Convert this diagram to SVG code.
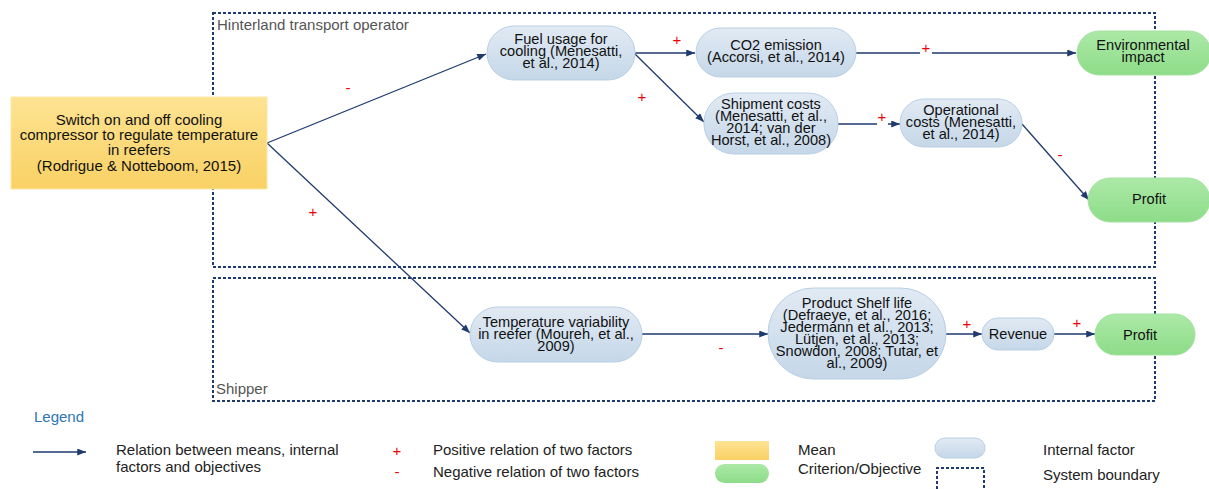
<svg xmlns="http://www.w3.org/2000/svg" width="1209" height="489" viewBox="0 0 1209 489">
<defs>
<linearGradient id="gMean" x1="0" y1="0" x2="0" y2="1"><stop offset="0" stop-color="#fde393"/><stop offset="1" stop-color="#f9d164"/></linearGradient>
<linearGradient id="gInt" x1="0" y1="0" x2="0" y2="1"><stop offset="0" stop-color="#e1eaf4"/><stop offset="1" stop-color="#c5d7e8"/></linearGradient>
<linearGradient id="gObj" x1="0" y1="0" x2="0" y2="1"><stop offset="0" stop-color="#ace9a7"/><stop offset="1" stop-color="#8ddc88"/></linearGradient>
<marker id="arr" viewBox="0 0 10 8" refX="10" refY="4" markerWidth="10" markerHeight="7" markerUnits="userSpaceOnUse" orient="auto"><path d="M0,0 L10,4 L0,8 Z" fill="#1f3a6e"/></marker>
<style>
text{font-family:"Liberation Sans",Arial,sans-serif;font-size:15px;fill:#111}
.n text{text-anchor:middle;font-size:14.6px}
.mean{fill:url(#gMean);stroke:#fbe7a6;stroke-width:1}
.int{fill:url(#gInt);stroke:#b9cfe4;stroke-width:1}
.obj{fill:url(#gObj);stroke:#a4e2a0;stroke-width:1}
.bnd{fill:none;stroke:#1f3a6e;stroke-width:2;stroke-dasharray:3 2}
.c line{stroke:#1f3a6e;stroke-width:1.3;marker-end:url(#arr)}
.s{fill:#e00;font-size:15px;text-anchor:middle}
.bl{fill:#555;font-size:15px}
.lg{fill:#222;font-size:15px}
</style>
</defs>
<rect width="1209" height="489" fill="#fff"/>
<g id="boundaries">
<rect class="bnd" x="213" y="13" width="942" height="254"/>
<rect class="bnd" x="213" y="278" width="942" height="123"/>
<text class="bl" x="217" y="30">Hinterland transport operator</text>
<text class="bl" x="216" y="394">Shipper</text>
</g>
<g id="connectors" class="c">
<line x1="267" y1="143" x2="486" y2="54"/>
<line x1="267" y1="143" x2="470" y2="333"/>
<line x1="635" y1="53" x2="695" y2="53"/>
<line x1="635" y1="54" x2="704" y2="122"/>
<line x1="856" y1="53" x2="1076" y2="53"/>
<line x1="838" y1="124" x2="900" y2="124"/>
<line x1="1022" y1="124" x2="1089" y2="200"/>
<line x1="642" y1="334" x2="768" y2="334"/>
<line x1="946" y1="334" x2="982" y2="334"/>
<line x1="1054" y1="334" x2="1095" y2="334"/>
</g>
<g id="signs">
<text class="s" x="348" y="93">-</text>
<text class="s" x="313" y="217">+</text>
<text class="s" x="677" y="45">+</text>
<text class="s" x="642" y="102">+</text>
<rect x="920" y="44" width="12" height="12" fill="#fff"/>
<text class="s" x="926" y="53">+</text>
<rect x="877" y="116" width="11" height="12" fill="#fff"/>
<text class="s" x="882" y="122">+</text>
<text class="s" x="1060" y="160">-</text>
<text class="s" x="721" y="353">-</text>
<text class="s" x="967" y="329">+</text>
<text class="s" x="1077" y="328">+</text>
</g>
<g id="mean" class="n">
<rect class="mean" x="11" y="97" width="256" height="92"/>
<text x="139" y="125" style="font-size:15px">Switch on and off cooling</text>
<text x="139" y="140" style="font-size:15px">compressor to regulate temperature</text>
<text x="139" y="155" style="font-size:15px">in reefers</text>
<text x="139" y="171" style="font-size:15px">(Rodrigue &amp; Notteboom, 2015)</text>
</g>
<g id="fuel" class="n">
<rect class="int" x="487" y="26" width="148" height="54" rx="27"/>
<text x="561" y="44">Fuel usage for</text>
<text x="561" y="56">cooling (Menesatti,</text>
<text x="561" y="68">et al., 2014)</text>
</g>
<g id="co2" class="n">
<rect class="int" x="696" y="28" width="160" height="49" rx="24.5"/>
<text x="776" y="50">CO2 emission</text>
<text x="776" y="62">(Accorsi, et al., 2014)</text>
</g>
<g id="env" class="n">
<rect class="obj" x="1077" y="31" width="134" height="44" rx="22"/>
<text x="1143" y="50">Environmental</text>
<text x="1143" y="62">impact</text>
</g>
<g id="shipment" class="n">
<rect class="int" x="704" y="93" width="134" height="61" rx="30"/>
<text x="771" y="109">Shipment costs</text>
<text x="771" y="121">(Menesatti, et al.,</text>
<text x="771" y="133">2014; van der</text>
<text x="771" y="145">Horst, et al., 2008)</text>
</g>
<g id="operational" class="n">
<rect class="int" x="900" y="99" width="122" height="48" rx="24"/>
<text x="961" y="115">Operational</text>
<text x="961" y="127">costs (Menesatti,</text>
<text x="961" y="139">et al., 2014)</text>
</g>
<g id="profit1" class="n">
<rect class="obj" x="1088" y="178" width="122" height="44" rx="22"/>
<text x="1149" y="204">Profit</text>
</g>
<g id="tempvar" class="n">
<rect class="int" x="470" y="307" width="172" height="55" rx="27.5"/>
<text x="556" y="327">Temperature variability</text>
<text x="556" y="339">in reefer (Moureh, et al.,</text>
<text x="556" y="351">2009)</text>
</g>
<g id="shelf" class="n">
<rect class="int" x="768" y="288" width="178" height="91" rx="45.5"/>
<text x="857" y="308">Product Shelf life</text>
<text x="857" y="320">(Defraeye, et al., 2016;</text>
<text x="857" y="332">Jedermann et al., 2013;</text>
<text x="857" y="344">Lütjen, et al., 2013;</text>
<text x="857" y="356">Snowdon, 2008; Tutar, et</text>
<text x="857" y="368">al., 2009)</text>
</g>
<g id="revenue" class="n">
<rect class="int" x="982" y="318" width="72" height="32" rx="16"/>
<text x="1018" y="339">Revenue</text>
</g>
<g id="profit2" class="n">
<rect class="obj" x="1095" y="314" width="100" height="41" rx="20.5"/>
<text x="1140" y="340">Profit</text>
</g>
<g id="legend">
<text x="34" y="422" style="fill:#2e75b6;font-size:15px">Legend</text>
<line x1="33" y1="452" x2="86" y2="452" stroke="#1f3a6e" stroke-width="1.3" marker-end="url(#arr)"/>
<text class="lg" x="116" y="455">Relation between means, internal</text>
<text class="lg" x="116" y="472">factors and objectives</text>
<text class="s" x="397" y="456">+</text>
<text class="s" x="397" y="477">-</text>
<text class="lg" x="433" y="455">Positive relation of two factors</text>
<text class="lg" x="433" y="477">Negative relation of two factors</text>
<rect class="mean" x="715" y="441" width="54" height="19" style="stroke:none"/>
<rect class="obj" x="715" y="464" width="54" height="19" rx="9.5" style="stroke:none"/>
<text class="lg" x="798" y="455">Mean</text>
<text class="lg" x="798" y="474">Criterion/Objective</text>
<rect class="int" x="935" y="438" width="50" height="20" rx="10"/>
<text class="lg" x="1043" y="455">Internal factor</text>
<path class="bnd" d="M937,489 V468 H984 V489"/>
<text class="lg" x="1043" y="480">System boundary</text>
</g>
</svg>
